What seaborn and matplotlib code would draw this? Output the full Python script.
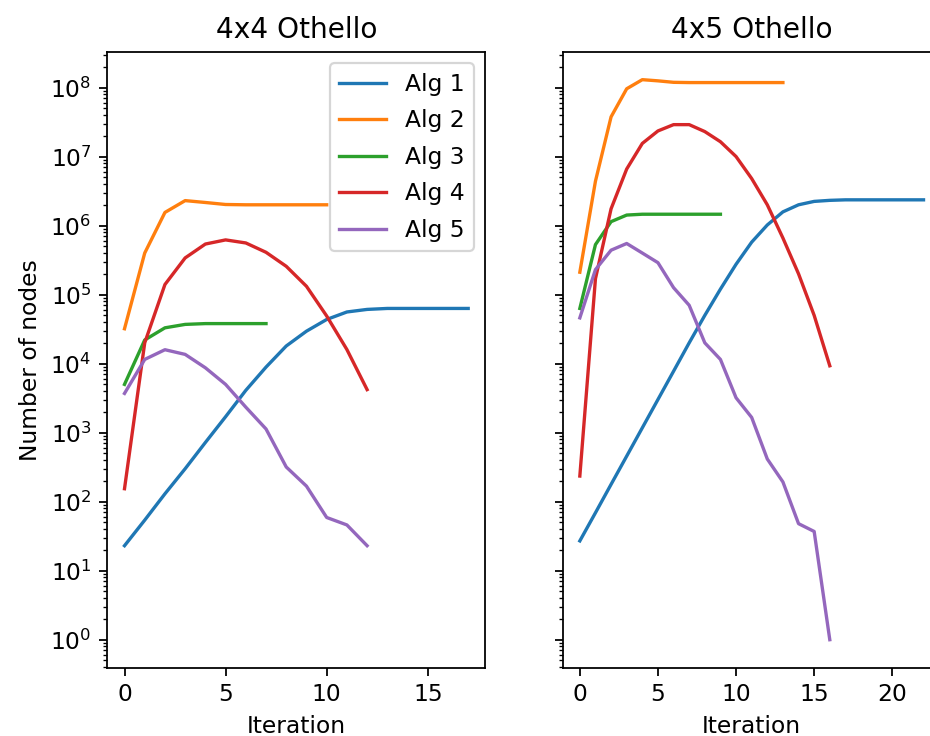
import matplotlib
matplotlib.use('Agg')
import matplotlib.pyplot as plt
import seaborn as sns
import pandas as pd


algs = ['Alg 1', 'Alg 2', 'Alg 3', 'Alg 4', 'Alg 5']

# 4x4 Othello, nodes per iteration
small_alg1 = [23, 54, 130, 300, 720, 1700, 4100, 8900, 18000, 29500, 43600,
              56000, 61000, 63000, 63000, 63000, 63000, 63000]
small_alg2 = [32000, 400000, 1550000, 2300000, 2160000, 2020000, 2000000,
              2000000, 2000000, 2000000, 2000000]
small_alg3 = [5000, 22000, 33000, 37000, 38000, 38000, 38000, 38000]
small_alg4 = [154, 20000, 140000, 340000, 540000, 620000, 560000, 410000,
              257000, 132000, 49000, 16000, 4200]
small_alg5 = [3700, 11500, 15900, 13600, 8700, 5000, 2340, 1130, 318, 168,
              59, 46, 23]

# 4x5 Othello, nodes per iteration
big_alg1 = [27, 69, 178, 457, 1175, 3020, 7760, 20000, 50000, 120000, 275000,
            575000, 1020000, 1580000, 2000000, 2240000, 2320000, 2360000,
            2360000, 2360000, 2360000, 2360000, 2360000]
big_alg2 = [211000, 4400000, 37600000, 96000000, 130000000, 125000000,
            119000000, 118000000, 118000000, 118000000, 118000000, 118000000,
            118000000, 118000000]
big_alg3 = [63000, 530000, 1140000, 1420000, 1460000, 1460000, 1460000,
            1460000, 1460000, 1460000]
big_alg4 = [235, 170000, 1750000, 6600000, 15500000, 23500000, 29000000,
            29000000, 23000000, 16400000, 10000000, 4800000, 2000000, 660000,
            200000, 50000, 9300]
big_alg5 = [46000, 230000, 440000, 550000, 400000, 290000, 126000, 70000,
            20000, 11500, 3200, 1660, 415, 193, 48, 37, 1]


def to_frame(series):
    rows = []
    for alg, values in zip(algs, series):
        for i, v in enumerate(values):
            rows.append({'Iteration': i, 'Number of nodes': v, 'alg': alg})
    return pd.DataFrame(rows)


def main():
    plt.rcParams['font.size'] = 10.5
    df_small = to_frame([small_alg1, small_alg2, small_alg3, small_alg4, small_alg5])
    df_big = to_frame([big_alg1, big_alg2, big_alg3, big_alg4, big_alg5])

    fig, axis = plt.subplots(1, 2, figsize=(5.8125, 4.6), dpi=160, sharey=True)
    axis[0].set_position([0.1154, 0.0928, 0.4065, 0.837])
    axis[1].set_position([0.605, 0.0928, 0.4065, 0.837])

    sns.lineplot(data=df_small, x='Iteration', y='Number of nodes', hue='alg',
                 hue_order=algs, palette='tab10', errorbar=None, ax=axis[0])
    sns.lineplot(data=df_big, x='Iteration', y='Number of nodes', hue='alg',
                 hue_order=algs, palette='tab10', errorbar=None, legend=False,
                 ax=axis[1])

    for ax in axis:
        ax.set_yscale('log')
    axis[0].set_title('4x4 Othello')
    axis[1].set_title('4x5 Othello')
    axis[1].set_ylabel('')
    axis[1].tick_params(labelleft=False)
    sns.move_legend(axis[0], 'upper right', title=None, labelspacing=0.58)

    fig.savefig('out.png', dpi=160)
    plt.close()


if __name__ == '__main__':
    main()
